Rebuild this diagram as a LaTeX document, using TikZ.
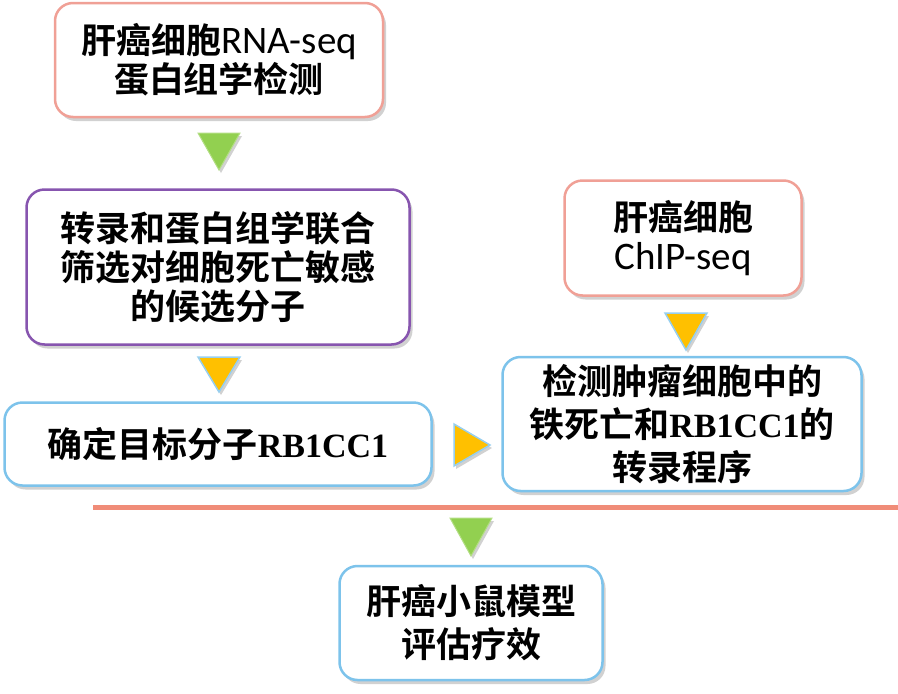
\documentclass[tikz,border=0pt]{standalone}
\usepackage{fontspec}
\setmainfont{Noto Sans CJK SC}[BoldFont={Noto Sans CJK SC Bold}]
\newfontfamily\latinsans{Carlito}
\newfontfamily\latinserif{Liberation Serif}
\usetikzlibrary{shadows}
\definecolor{pinkb}{RGB}{240,160,150}
\definecolor{purpb}{RGB}{135,85,175}
\definecolor{blueb}{RGB}{125,195,235}
\definecolor{greent}{RGB}{146,208,80}
\definecolor{yellowt}{RGB}{255,192,0}
\definecolor{lineor}{RGB}{240,140,120}
\tikzset{
  box/.style={draw, rounded corners=18pt, line width=2.5pt, fill=white, align=center, inner sep=0pt,
    font=\bfseries\fontsize{35}{39}\selectfont,
    drop shadow={shadow xshift=3pt, shadow yshift=-4pt, opacity=0.3, fill=black!60}},
  widebox/.style={box, font=\bfseries\fontsize{35}{43}\selectfont},
  gtri/.style={fill=greent, draw=greent!70!white, line width=1pt,
    drop shadow={shadow xshift=2pt, shadow yshift=-3pt, opacity=0.3, fill=black!60}},
  ytri/.style={fill=yellowt, draw=blueb!80!white, line width=1.5pt,
    drop shadow={shadow xshift=2pt, shadow yshift=-3pt, opacity=0.3, fill=black!60}},
}
\newcommand{\ls}[1]{{\latinsans\mdseries\fontsize{39}{39}\selectfont #1}}
\newcommand{\lr}[1]{{\latinserif\bfseries\fontsize{34}{39}\selectfont #1}}
\begin{document}
\begin{tikzpicture}[x=1pt,y=-1pt]
\useasboundingbox (0,0) rectangle (898,694);
\node[box, draw=pinkb, minimum width=328pt, minimum height=114pt] (b1) at (219,60)
  {肝癌细胞\ls{RNA-seq}\\蛋白组学检测};
\node[box, draw=purpb, minimum width=383pt, minimum height=155pt] (b2) at (218,267)
  {转录和蛋白组学联合\\筛选对细胞死亡敏感\\的候选分子};
\node[box, draw=blueb, minimum width=427pt, minimum height=83pt] (b3) at (218,444)
  {确定目标分子\lr{RB1CC1}};
\node[box, draw=pinkb, minimum width=237pt, minimum height=115pt] (b5) at (683,238)
  {肝癌细胞\\\ls{ChIP-seq}};
\node[widebox, draw=blueb, minimum width=359pt, minimum height=134pt] (b4) at (682,424)
  {检测肿瘤细胞中的\\铁死亡和\lr{RB1CC1}的\\转录程序};
\node[widebox, draw=blueb, minimum width=263pt, minimum height=114pt] (b6) at (471,623)
  {肝癌小鼠模型\\评估疗效};
\draw[lineor, line width=5pt] (93,507) coordinate (l1) -- (898,507) coordinate (l2);
% triangles
\draw[gtri] (198,133) -- (240,133) -- (219,170) -- cycle;
\draw[ytri] (198,357) -- (240,357) -- (219,392) -- cycle;
\draw[ytri] (665,313) -- (707,313) -- (686,350) -- cycle;
\draw[ytri] (454,424) -- (490,445) -- (454,466) -- cycle;
\draw[gtri] (450,518) -- (492,518) -- (471,556) -- cycle;
\end{tikzpicture}
\end{document}
